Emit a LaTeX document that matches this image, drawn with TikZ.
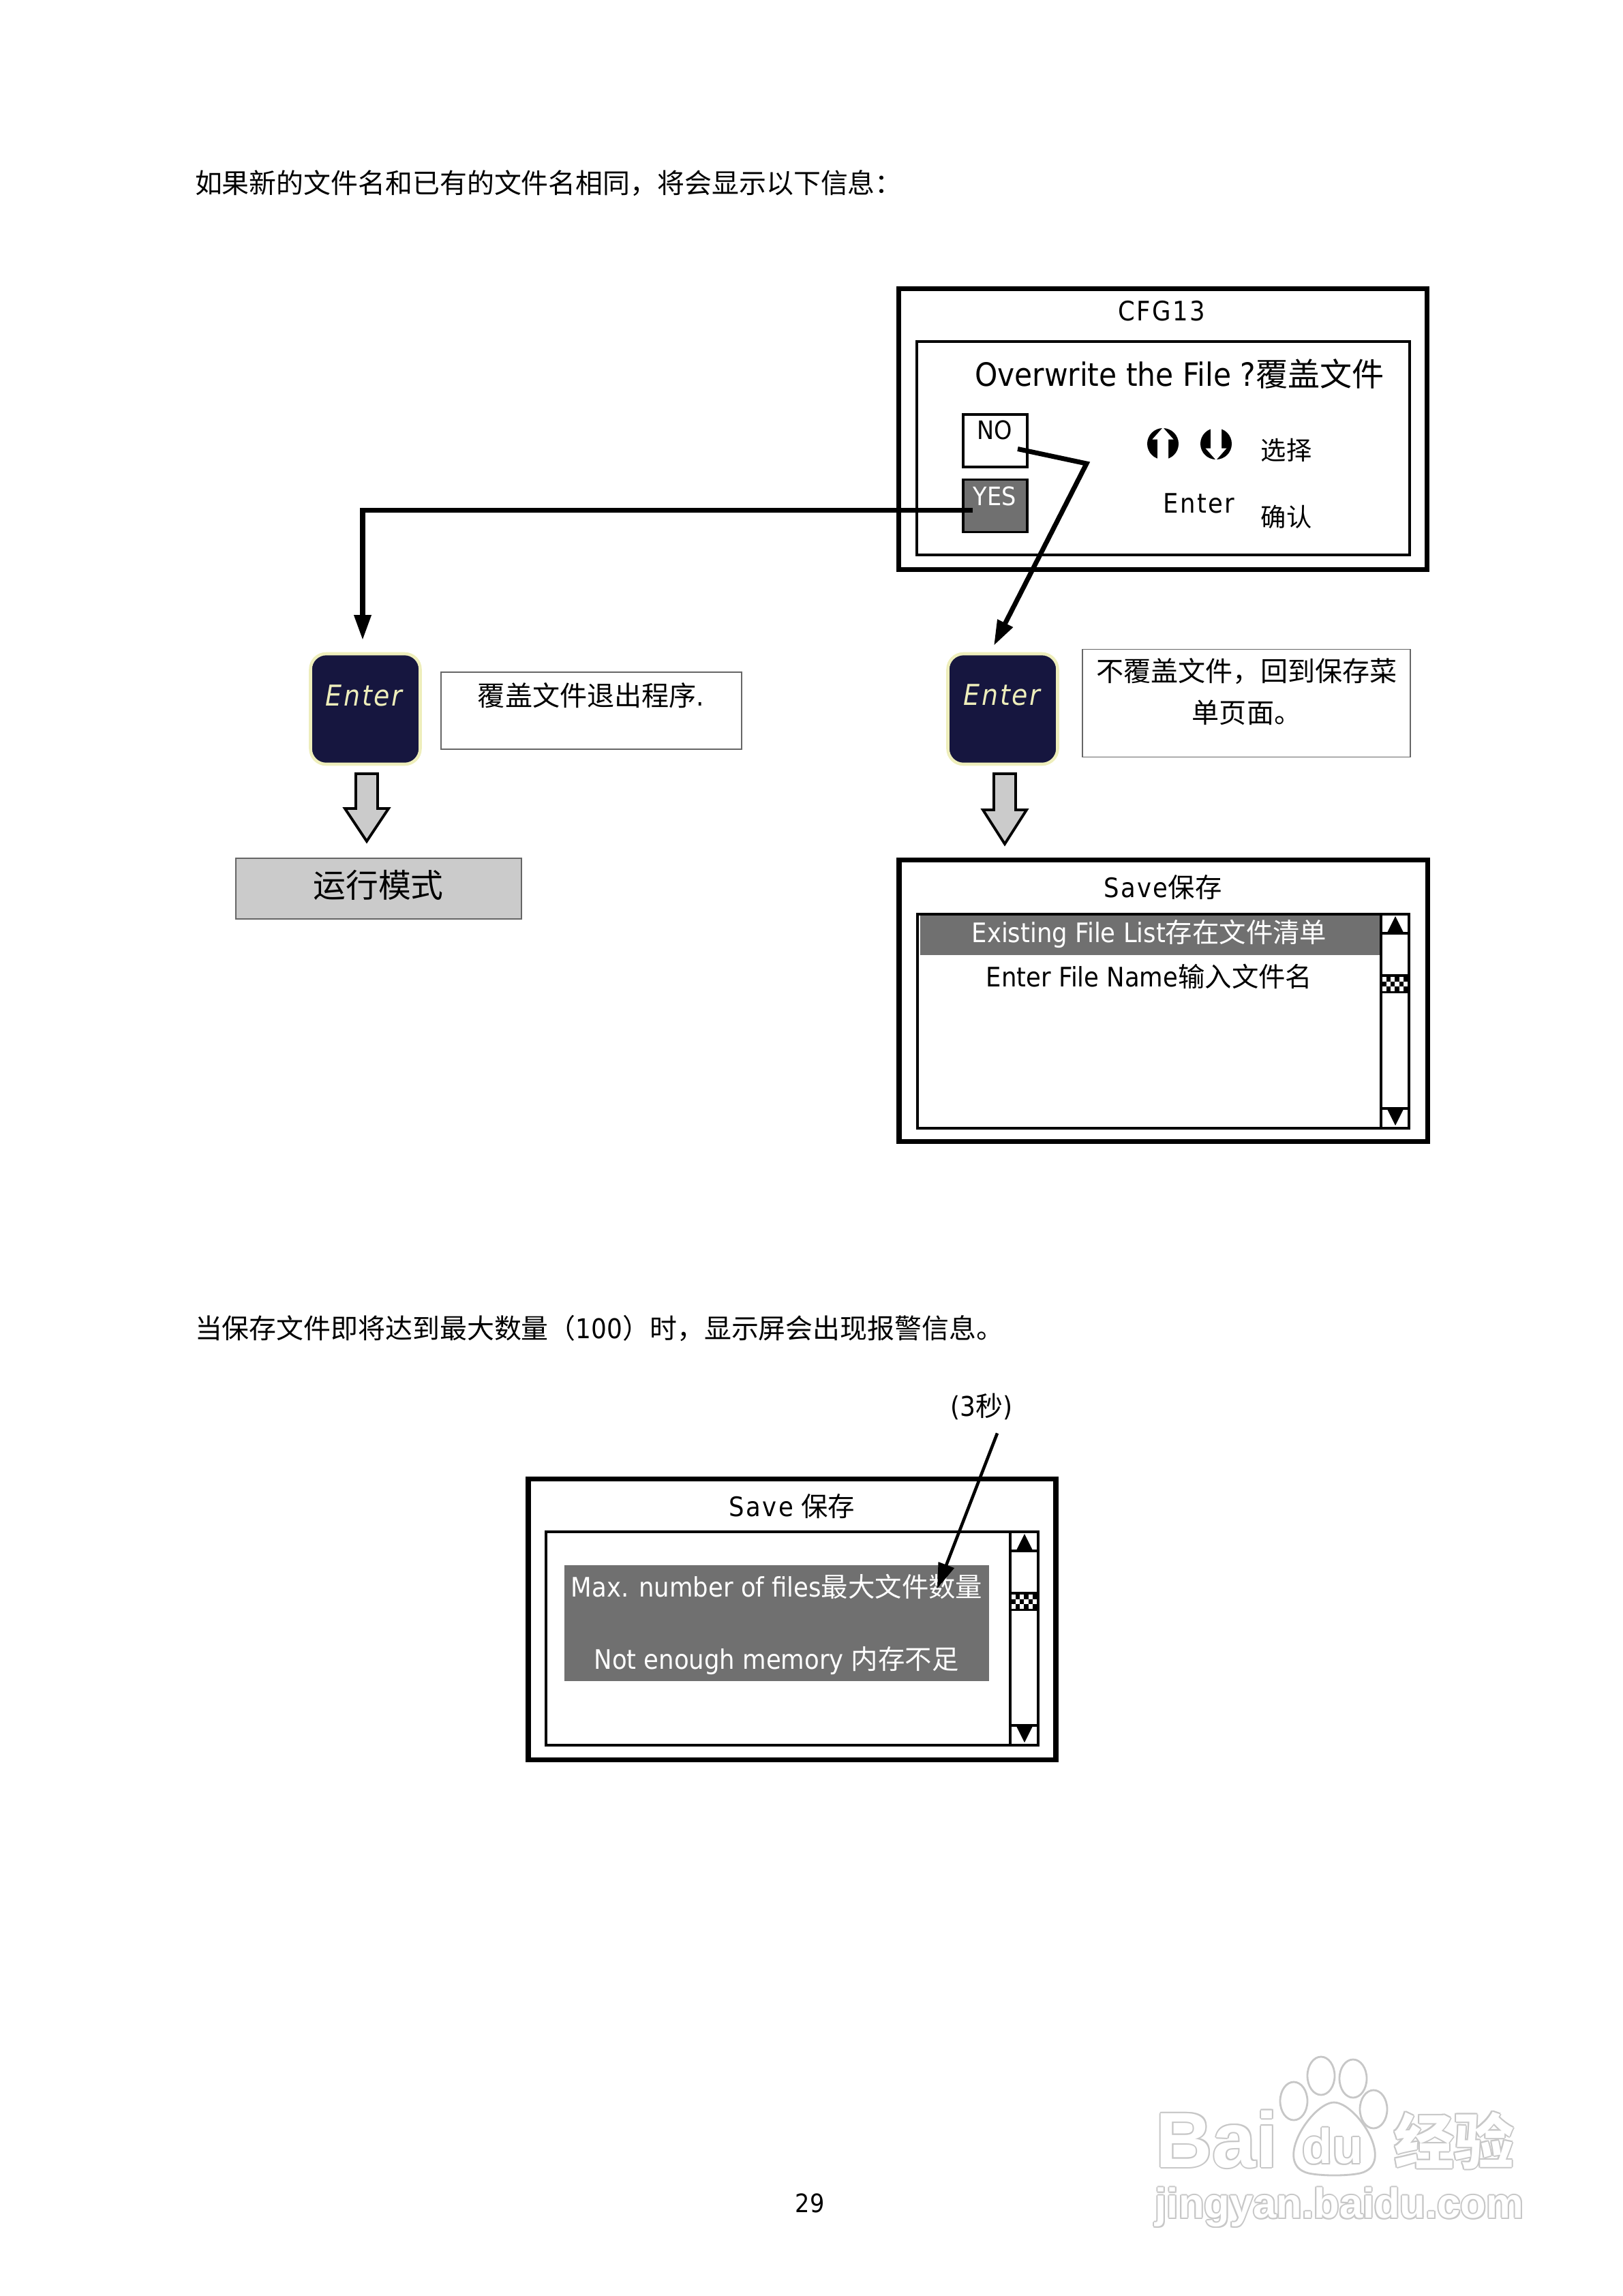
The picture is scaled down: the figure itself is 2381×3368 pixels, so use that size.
\documentclass[tikz,border=0pt]{standalone}
\usepackage{fontspec}
\setmainfont[FakeStretch=0.9]{DejaVu Sans}
\newfontfamily\cjk{Noto Sans CJK SC}
\newfontfamily\wmfont{Liberation Sans Bold}
\usetikzlibrary{arrows.meta}
\usetikzlibrary{calc}
\newcommand{\cn}[1]{{\cjk #1}}
\newcommand{\szsmall}{\fontsize{10.6pt}{13pt}\selectfont}
\newcommand{\szintro}{\fontsize{11.35pt}{14pt}\selectfont}
\newcommand{\szmid}{\fontsize{11.2pt}{14pt}\selectfont}
\newcommand{\sznote}{\fontsize{11.4pt}{17.4pt}\selectfont}
\newcommand{\szhuge}{\fontsize{13.4pt}{16pt}\selectfont}
\newcommand{\spaced}{\addfontfeature{LetterSpace=6}}
\definecolor{keyblue}{HTML}{16163F}
\definecolor{keyedge}{HTML}{EEEEBB}
\definecolor{selgray}{HTML}{707070}
\definecolor{softgray}{HTML}{CBCBCB}
\tikzstyle{every node}=[inner sep=0pt, outer sep=0pt]
\tikzset{sized/.style 2 args={minimum width=#1*0.01cm, minimum height=#2*0.01cm}}
\tikzset{panelout/.style={draw, line width=2pt, fill=white}}
\tikzset{panelin/.style={draw, line width=1.1pt}}
\tikzset{btnbox/.style={draw, line width=0.9pt, sized={94}{77}}}
\tikzset{notebox/.style={draw=black!60, line width=0.4pt}}
\tikzset{enterkey/.style={draw=keyedge, fill=keyblue, line width=1.3pt, rounded corners=6.5pt, sized={161}{162}}}
\tikzset{keytext/.style={text=keyedge, font=\fontsize{12pt}{14pt}\selectfont\itshape\spaced}}
\tikzset{flowline/.style={line width=2pt, -{Triangle[length=10.5pt,width=6.8pt]}}}
\tikzset{hollowarrow/.style={draw, fill=softgray, line width=1.1pt}}
\tikzset{wmedge/.style={text=black!22}}
\tikzset{wmface/.style={text=white}}
\newcommand{\wmword}[5]{%
	\foreach \dx/\dy [count=\wi] in {-2/0,2/0,0/-2,0/2,-1.5/-1.5,1.5/1.5,-1.5/1.5,1.5/-1.5}{%
		\node[wmedge, font=#5] (#1\wi) at (#2+\dx,#3+\dy) {#4};}
	\node[wmface, font=#5] (#1) at (#2,#3) {#4};}
\begin{document}
\begin{tikzpicture}[x=0.01cm, y=-0.01cm]
		\useasboundingbox (0,0) rectangle (2381,3368);
		\node[anchor=west, font=\szintro] (introa) at (286,269) {\cn{如果新的文件名和已有的文件名相同，将会显示以下信息：}};
		\node[anchor=west, font=\szintro] (introb) at (286,1949) {\cn{当保存文件即将达到最大数量（}100\cn{）时，显示屏会出现报警信息。}};
		\node[font=\szsmall] (pagenum) at (1188,3232) {29};

		\node[panelout, sized={775}{412}] (cfgout) at (1706,629) {};
		\node[panelin, sized={723}{313}] (cfgin) at (1706.5,657.5) {};
		\node[font=\szmid\spaced] (cfgtitle) at (1704,456) {CFG13};
		\node[anchor=west, font=\szhuge] (overwrite) at (1430,548) {Overwrite the File ?\cn{覆盖文件}};
		\node[btnbox, fill=white] (nobox) at (1460,646.5) {};
		\node[font=\szsmall] (notext) at (1459,631) {NO};
		\node[btnbox, fill=selgray] (yesbox) at (1460,742) {};
		\node[font=\szsmall, text=white] (yestext) at (1459,728) {YES};
		\foreach \ix/\is in {1706/1,1784/-1}{
			\fill (\ix,651) circle (23);
			\fill[white] (\ix,651-\is*24) -- (\ix+15.5,651-\is*6.5) -- (\ix+8,651-\is*6.5) -- (\ix+8,651+\is*24) -- (\ix-8,651+\is*24) -- (\ix-8,651-\is*6.5) -- (\ix-15.5,651-\is*6.5) -- cycle;
		}
		\node[font=\szsmall] (seltext) at (1887,660) {\cn{选择}};
		\node[font=\szmid\spaced] (entertext) at (1759,738) {Enter};
		\node[font=\szsmall] (oktext) at (1887,758) {\cn{确认}};

		\node[enterkey] (enterl) at (536,1040) {};
		\node[keytext] (enterltext) at (534,1020) {Enter};
		\node[enterkey] (enterr) at (1471,1040) {};
		\node[keytext] (enterrtext) at (1470,1019) {Enter};
		\node[notebox, sized={441}{113}] (notel) at (867.5,1042.5) {};
		\node[font=\sznote] (noteltext) at (867,1020) {\cn{覆盖文件退出程序}.};
		\node[notebox, sized={481}{158}] (noter) at (1828.5,1031.5) {};
		\node[font=\sznote, align=center] (notertext) at (1829,1015) {\cn{不覆盖文件，回到保存菜}\\\cn{单页面。}};
		\foreach \ax/\as/\at in {538/1186/1234,1474/1188/1238}{
			\draw[hollowarrow] (\ax-16,1135) -- (\ax+16,1135) -- (\ax+16,\as) -- (\ax+32,\as) -- (\ax,\at) -- (\ax-32,\as) -- (\ax-16,\as) -- cycle;
		}
		\node[notebox, fill=softgray, sized={419}{89}] (runmode) at (555.5,1303.5) {};
		\node[font=\fontsize{13.6pt}{16pt}\selectfont] (runmodetext) at (555,1298) {\cn{运行模式}};

		\node[panelout, sized={775}{413}] (saveout) at (1706.5,1468) {};
		\node[panelin, sized={721}{314}] (savein) at (1706.5,1498) {};
		\fill[selgray] (1350,1343) rectangle (2024,1401);
		\node[font=\szmid] (savetitle) at (1706,1302) {{\spaced Save}\cn{保存}};
		\node[font=\szmid, text=white] (existing) at (1686,1370) {Existing File List\cn{存在文件清单}};
		\node[font=\szmid] (entername) at (1686,1432) {Enter File Name\cn{输入文件名}};

		\node[panelout, sized={774}{412}] (warnout) at (1162,2375) {};
		\node[panelin, sized={722}{313}] (warnin) at (1162,2403.5) {};
		\node[fill=selgray, sized={623}{170}] (warnbox) at (1139.5,2381) {};
		\node[font=\szmid] (warntitle) at (1162,2209) {{\spaced Save} \cn{保存}};
		\node[font=\szmid, text=white] (maxfiles) at (1139.5,2327) {Max. number of files\cn{最大文件数量}};
		\node[font=\szmid, text=white] (nomemory) at (1139,2436) {Not enough memory \cn{内存不足}};
		\node[font=\szintro] (threesec) at (1440,2063) {(3\cn{秒})};

		\foreach \sl/\st/\sb/\tt in {2026/1341/1655/1429,1482/2247/2560/2335}{
			\draw[line width=1.1pt] (\sl,\st) rectangle (\sl+41,\sb);
			\draw[line width=1.1pt] (\sl,\st+28) -- (\sl+41,\st+28);
			\draw[line width=1.1pt] (\sl,\sb-29) -- (\sl+41,\sb-29);
			\fill (\sl+21,\st+3) -- (\sl+32.5,\st+26) -- (\sl+9.5,\st+26) -- cycle;
			\fill (\sl+21,\sb-4) -- (\sl+32.5,\sb-27) -- (\sl+9.5,\sb-27) -- cycle;
			\fill (\sl-2,\tt) rectangle (\sl+43,\tt+28);
			\foreach \ci in {0,...,5}{
				\foreach \cj in {0,...,2}{
					\pgfmathparse{int(mod(\ci+\cj,2))}
					\ifnum\pgfmathresult=0
						\fill[white] (\sl+1.5+\ci*6.3,\tt+3.5+\cj*7) rectangle ++(6.3,7);
					\fi
				}
			}
		}

		\coordinate (nobend) at (1594,680);
		\coordinate (yescorner) at (532,748);
		\draw[flowline, miter limit=10] ($(nobox.east)+(-14,12)$) -- (nobend) -- ($(enterr.north)+(-13,-12)$);
		\draw[flowline, miter limit=10] ($(yesbox.west)+(14,6)$) -- (yescorner) -- ($(enterl.north)+(-4,-20)$);
		\draw[line width=1.3pt, -{Triangle[length=10.5pt,width=6.8pt]}] ($(threesec.south)+(23,20)$) -- ($(warnbox.north east)+(-76,34)$);

		\foreach \tx/\ty in {1898/3082,1938/3045,1985/3049,2015/3094}{
			\draw[black!22, line width=0.8pt, fill=white] (\tx,\ty) ellipse (20 and 28);
		}
		\draw[black!22, line width=0.8pt, fill=white] (1957,3084) .. controls (1990,3084) and (2050,3175) .. (1995,3188) .. controls (1975,3192) and (1940,3192) .. (1920,3188) .. controls (1865,3175) and (1925,3084) .. (1957,3084) -- cycle;
		\wmword{wmbai}{1785}{3138}{Bai}{\wmfont\fontsize{32.7pt}{36pt}\selectfont}
		\wmword{wmdu}{1955}{3148}{du}{\wmfont\fontsize{20.5pt}{24pt}\selectfont}
		\wmword{wmjing}{2133}{3140}{\cjk\bfseries 经验}{\fontsize{25pt}{28pt}\selectfont}
		\wmword{wmurl}{1965}{3238}{jingyan.baidu.com}{\wmfont\fontsize{17.5pt}{21pt}\selectfont}
\end{tikzpicture}
\end{document}
